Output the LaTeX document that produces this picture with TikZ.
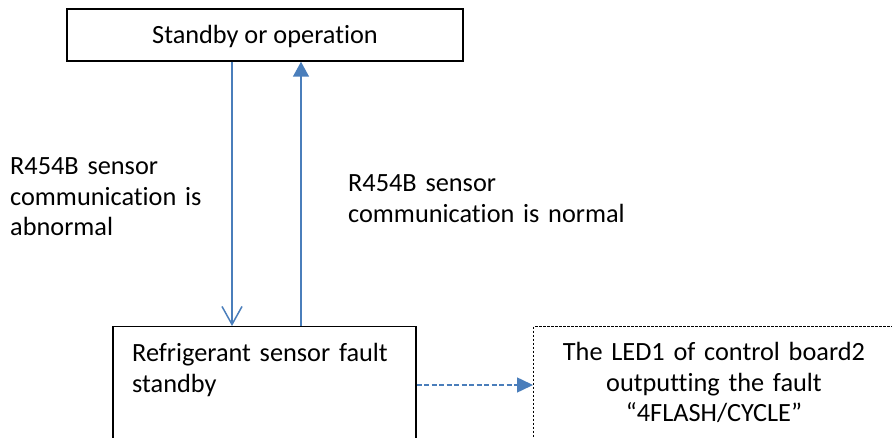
\documentclass[tikz,border=0pt]{standalone}
\usepackage{fontspec}
\setmainfont[Ligatures={NoCommon,NoContextual}]{Carlito}
\usetikzlibrary{arrows.meta}
\definecolor{linkblue}{HTML}{4A7EBB}
\tikzset{
  statebox/.style={draw=black, line width=1.5pt, rectangle, inner sep=0pt},
  notebox/.style={draw=black, line width=1.1pt, dash pattern=on 2.5pt off 1.5pt, rectangle, inner sep=0pt},
  flow/.style={draw=linkblue, line width=1.5pt},
  txt/.style={font=\fontsize{26.3pt}{30.5pt}\selectfont, inner sep=0pt},
}
\begin{document}
\begin{tikzpicture}[x=1pt,y=-1pt]
  \useasboundingbox (0,0) rectangle (892,438);
  \begin{scope}
    \clip (0,0) rectangle (892,438);
    % states
    \node[statebox, minimum width=396pt, minimum height=52pt, txt, text height=24pt, text depth=6pt]
      (top) at (265,35) {Standby or operation};
    \node[statebox, anchor=north west, minimum width=303pt, minimum height=160pt] (fault) at (112,326) {};
    \node[txt, anchor=base west, align=left, text width=270pt] (faulttxt) at (132,362)
      {Refrigerant sensor fault\\standby};
    % LED output box
    \node[notebox, anchor=north west, minimum width=400pt, minimum height=160pt] (led) at (533,326) {};
    \node[txt, anchor=base, align=center, text width=340pt] (ledtxt) at (714,361)
      {The LED1 of control board2\\outputting the fault\\“4FLASH/CYCLE”};
    % transitions
    \draw[flow, -{Straight Barb[width=20pt,length=18pt,line width=1.5pt]}]
      (top.south -| 232,0) -- (fault.north -| 232,0);
    \draw[flow, -{Triangle[width=16pt,length=15pt]}]
      (fault.north -| 301,0) -- (top.south -| 301,0);
    \coordinate (ledin) at (533,385);
    \draw[flow, dash pattern=on 5pt off 2.5pt, -{Triangle[width=15pt,length=16pt]}]
      (fault.east |- ledin) -- (led.west |- ledin);
    % transition labels
    \node[txt, anchor=base west, align=left, text width=220pt] (lblab) at (10,175)
      {R454B sensor\\communication is\\abnormal};
    \node[txt, anchor=base west, align=left, text width=300pt] (lblno) at (348,192)
      {R454B sensor\\communication is normal};
  \end{scope}
\end{tikzpicture}
\end{document}
